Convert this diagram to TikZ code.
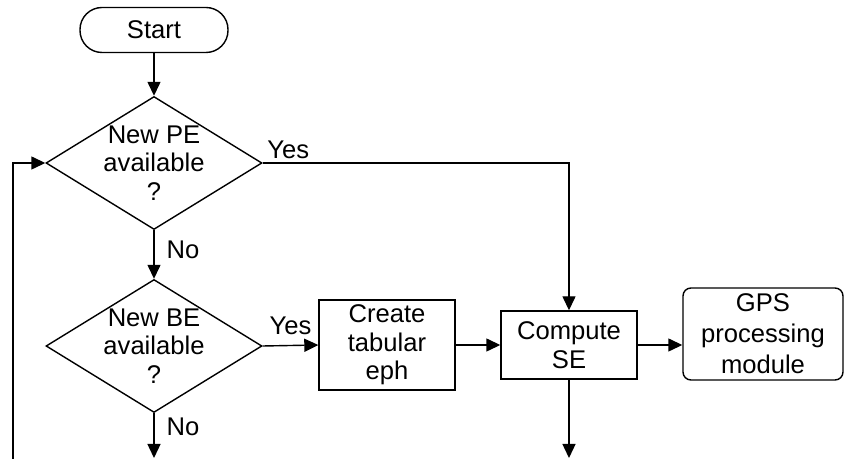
\documentclass[tikz,border=0pt]{standalone}
\usepackage{fontspec}
\setmainfont{Liberation Sans}
\usetikzlibrary{arrows.meta,shapes.geometric}

\begin{document}
\begin{tikzpicture}[>={Triangle[length=7pt,width=6.5pt]},x=0.5pt,y=-0.5pt,line width=0.7pt,
  every node/.style={font=\fontsize{12.8}{14.3}\selectfont,align=center},
  term/.style={draw,rectangle,rounded corners=11pt,minimum width=74pt,minimum height=22.5pt,inner sep=0pt},
  decision/.style={draw,diamond,aspect=1.62,inner sep=-3pt,minimum width=108pt,minimum height=66.5pt},
  block/.style={draw,rectangle,minimum width=68pt,inner sep=0pt},
  module/.style={draw,rectangle,rounded corners=4pt,minimum width=80pt,minimum height=46pt,inner sep=0pt,
    font=\fontsize{12.8}{15.5}\selectfont}]

\useasboundingbox (0,0) rectangle (848,459);

\node[term]      (start) at (154,30)  {Start};
\node[decision]  (pe)    at (154,163) {New PE\\available\\?};
\node[decision]  (be)    at (154,346) {New BE\\available\\?};
\node[block,minimum height=45pt] (tab) at (387,345) {Create\\tabular\\eph};
\node[block,minimum height=34pt] (se)  at (569,345) {Compute\\SE};
\node[module]    (gps)   at (763,334) {GPS\\processing\\module};

\coordinate (loop) at (13,459);
\coordinate (out1) at (154,458);
\coordinate (out2) at (569,458);

\draw[->] (start) -- (pe);
\draw[->] (pe.east) -| node[above right,pos=0,inner sep=2pt] {Yes} (se.north);
\draw[->] (pe.south) -- node[right,pos=0.41,inner sep=6pt] {No} (be.north);
\draw[->] (be.east) -- node[above,inner sep=5pt] {Yes} (tab.west);
\draw[->] (be.south) -- node[right,pos=0.31,inner sep=6pt] {No} (out1);
\draw[->] (tab.east) -- (se.west);
\draw[->] (se.east) -- (se.east -| gps.west);
\draw[->] (se.south) -- (out2);
\draw[->] (loop) |- (pe.west);
\end{tikzpicture}
\end{document}
